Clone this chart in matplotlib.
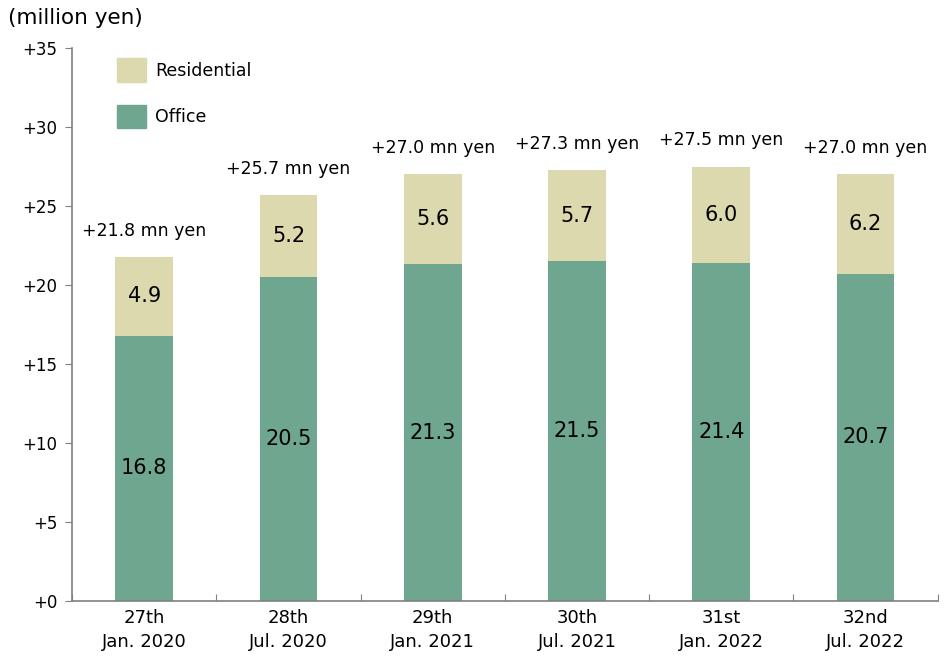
import matplotlib.pyplot as plt
from matplotlib.patches import Patch

periods = ['27th\nJan. 2020', '28th\nJul. 2020', '29th\nJan. 2021',
           '30th\nJul. 2021', '31st\nJan. 2022', '32nd\nJul. 2022']
office = [16.8, 20.5, 21.3, 21.5, 21.4, 20.7]
residential = [4.9, 5.2, 5.6, 5.7, 6.0, 6.2]
totals = [21.8, 25.7, 27.0, 27.3, 27.5, 27.0]
yticks = [0, 5, 10, 15, 20, 25, 30, 35]

office_color = '#6FA68F'
res_color = '#DCD9AF'
axis_color = '#808080'

plt.rcParams['font.family'] = ['DejaVu Sans']

fig = plt.figure(figsize=(9.53, 6.56), dpi=100)
ax = fig.add_axes([0.0756, 0.0838, 0.9084, 0.843])

x = list(range(len(periods)))
res_height = [t - o for t, o in zip(totals, office)]
ax.bar(x, office, width=0.4, color=office_color)
ax.bar(x, res_height, width=0.4, bottom=office, color=res_color)

for i in x:
    ax.text(i, office[i] / 2, f'{office[i]:.1f}', ha='center', va='center', fontsize=15)
    ax.text(i, office[i] + res_height[i] / 2, f'{residential[i]:.1f}',
            ha='center', va='center', fontsize=15)
    ax.text(i, totals[i] + 1.65, f'+{totals[i]:.1f} mn yen', ha='center', va='center',
            fontsize=12.5)

ax.set_xlim(-0.5, len(periods) - 0.5)
ax.set_ylim(0, 35)
ax.set_yticks(yticks)
ax.set_yticklabels([f'+{v}' for v in yticks], fontsize=12)
ax.tick_params(axis='y', direction='out', length=5, color=axis_color, pad=5.5)

ax.set_xticks([i + 0.5 for i in range(-1, len(periods))])
ax.set_xticklabels([])
ax.tick_params(axis='x', which='major', direction='in', length=5, color=axis_color)
ax.set_xticks(x, minor=True)
ax.set_xticklabels(periods, minor=True, fontsize=13, linespacing=1.38)
ax.tick_params(axis='x', which='minor', length=0, pad=6)

for side in ['top', 'right']:
    ax.spines[side].set_visible(False)
for side in ['left', 'bottom']:
    ax.spines[side].set_color(axis_color)
    ax.spines[side].set_linewidth(1.2)

handles = [Patch(color=res_color, label='Residential'),
           Patch(color=office_color, label='Office')]
ax.legend(handles=handles, loc='upper left', bbox_to_anchor=(0.04, 1.0), frameon=False,
          fontsize=12.5, handlelength=1.67, handleheight=1.7, labelspacing=1.32,
          handletextpad=0.5, borderaxespad=0.2)

fig.text(0.008, 0.972, '(million yen)', fontsize=15.5, ha='left', va='center')

plt.savefig('out.png', dpi=100)
